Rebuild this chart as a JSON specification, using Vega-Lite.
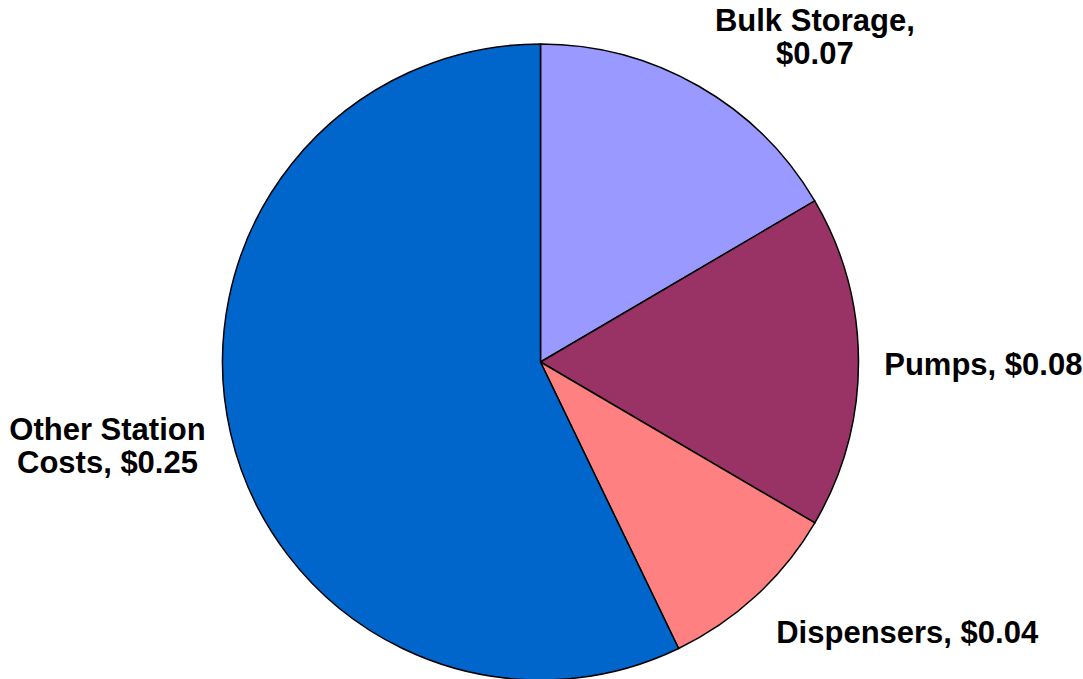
{
  "$schema": "https://vega.github.io/schema/vega-lite/v6.json",
  "width": 1081,
  "height": 634,
  "autosize": {"type": "none"},
  "padding": {"left": 0, "top": 45, "right": 2, "bottom": 0},
  "background": "white",
  "config": {"view": {"stroke": null}},
  "data": {
    "values": [
      {"i": 1, "cat": "Bulk Storage", "cost": 0.0728, "label": "Bulk Storage,\n$0.07"},
      {"i": 2, "cat": "Pumps", "cost": 0.0743, "label": "Pumps, $0.08"},
      {"i": 3, "cat": "Dispensers", "cost": 0.0414, "label": "Dispensers, $0.04"},
      {"i": 4, "cat": "Other Station Costs", "cost": 0.2514, "label": "Other Station\nCosts, $0.25"}
    ]
  },
  "encoding": {
    "theta": {"field": "cost", "type": "quantitative", "stack": true},
    "order": {"field": "i", "type": "quantitative"},
    "detail": {"field": "cat", "type": "nominal"}
  },
  "layer": [
    {
      "mark": {"type": "arc", "outerRadius": 318, "stroke": "black", "strokeWidth": 1.5},
      "encoding": {
        "color": {
          "field": "cat",
          "type": "nominal",
          "scale": {
            "domain": ["Bulk Storage", "Pumps", "Dispensers", "Other Station Costs"],
            "range": ["#9999FF", "#993366", "#FF8080", "#0066CC"]
          },
          "legend": null
        }
      }
    },
    {
      "mark": {"type": "text", "radius": 430, "thetaOffset": 0.172, "font": "Liberation Sans", "fontWeight": "bold", "fontSize": 31, "fill": "black", "align": "center", "baseline": "alphabetic", "lineBreak": "\n", "lineHeight": 33},
      "encoding": {"text": {"condition": {"test": "datum.cat === 'Bulk Storage'", "field": "label"}, "value": ""}}
    },
    {
      "mark": {"type": "text", "radius": 443, "thetaOffset": 0.029, "font": "Liberation Sans", "fontWeight": "bold", "fontSize": 31, "fill": "black", "align": "center", "baseline": "alphabetic", "lineBreak": "\n", "lineHeight": 33},
      "encoding": {"text": {"condition": {"test": "datum.cat === 'Pumps'", "field": "label"}, "value": ""}}
    },
    {
      "mark": {"type": "text", "radius": 462, "thetaOffset": -0.172, "font": "Liberation Sans", "fontWeight": "bold", "fontSize": 31, "fill": "black", "align": "center", "baseline": "alphabetic", "lineBreak": "\n", "lineHeight": 33},
      "encoding": {"text": {"condition": {"test": "datum.cat === 'Dispensers'", "field": "label"}, "value": ""}}
    },
    {
      "mark": {"type": "text", "radius": 440, "thetaOffset": 0.046, "font": "Liberation Sans", "fontWeight": "bold", "fontSize": 31, "fill": "black", "align": "center", "baseline": "alphabetic", "lineBreak": "\n", "lineHeight": 33},
      "encoding": {"text": {"condition": {"test": "datum.cat === 'Other Station Costs'", "field": "label"}, "value": ""}}
    }
  ]
}
